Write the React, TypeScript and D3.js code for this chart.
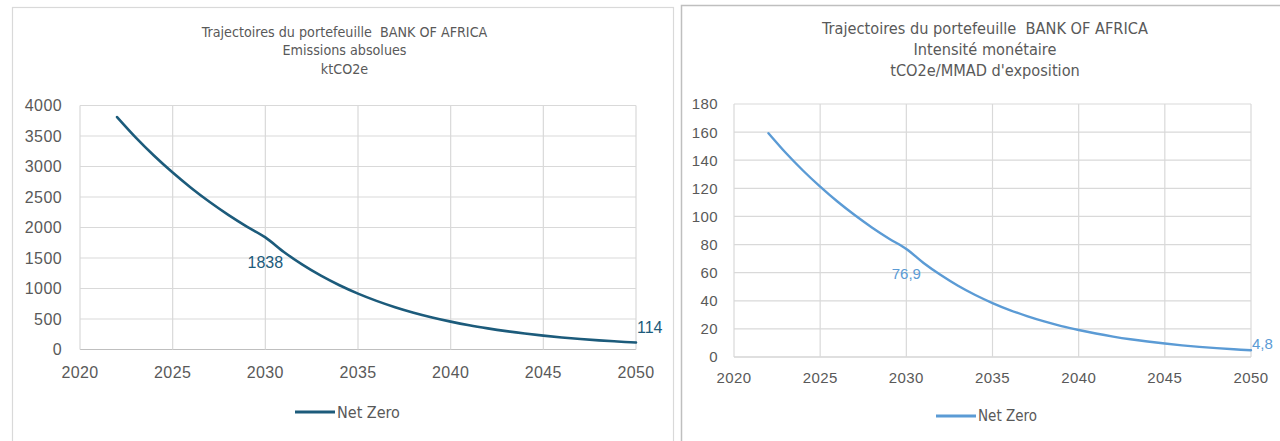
import React from "react";
import * as d3 from "d3";

const years = [2022, 2023, 2024, 2025, 2026, 2027, 2028, 2029, 2030, 2031, 2032, 2033, 2034, 2035, 2036, 2037, 2038, 2039, 2040, 2041, 2042, 2043, 2044, 2045, 2046, 2047, 2048, 2049, 2050];
const emissions = [3810, 3478, 3176, 2900, 2648, 2417, 2207, 2015, 1838, 1599, 1391, 1210, 1053, 916, 797, 693, 603, 525, 457, 397, 346, 301, 262, 228, 198, 172, 150, 131, 114];
const intensity = [159.2, 145.3, 132.7, 121.2, 110.6, 101.0, 92.2, 84.2, 76.9, 66.9, 58.3, 50.7, 44.1, 38.4, 33.4, 29.1, 25.3, 22.0, 19.2, 16.7, 14.5, 12.6, 11.0, 9.6, 8.3, 7.2, 6.3, 5.5, 4.8];
const labelYears = [2030, 2050];
const xTicks = [2020, 2025, 2030, 2035, 2040, 2045, 2050];
const leftTicks = [0, 500, 1000, 1500, 2000, 2500, 3000, 3500, 4000];
const rightTicks = [0, 20, 40, 60, 80, 100, 120, 140, 160, 180];
const leftTitle = ["Trajectoires du portefeuille  BANK OF AFRICA", "Emissions absolues", "ktCO2e"];
const rightTitle = ["Trajectoires du portefeuille  BANK OF AFRICA", "Intensité monétaire", "tCO2e/MMAD d'exposition"];
const seriesName = "Net Zero";

const fr = d3.formatLocale({ decimal: ",", thousands: "", grouping: [3], currency: ["", "€"] });
const fmtInt = fr.format("d");
const fmtDec = fr.format(".1f");

const NARROW = "'Liberation Sans Narrow', 'DejaVu Sans Condensed', 'Liberation Sans', sans-serif";
const SANS = "'Liberation Sans', Arial, sans-serif";
const GRAY = "#595959";

type PanelProps = {
  values: number[];
  yTicks: number[];
  yMax: number;
  title: string[];
  color: string;
  labelColor: string;
  fmt: (v: number) => string;
  x0: number; x1: number; yTop: number; yBot: number;
  yLabelEnd: number; xLabelBase: number; tickFont: number;
  titleX: number; titleYs: number[]; titleFont: number;
  legendX: number; legendY: number; legendLen: number; legendFont: number;
  lineWidth: number;
  labelOffsets: { dx: number; dy: number; anchor: string }[];
};

function Panel(p: PanelProps) {
  const x = d3.scaleLinear().domain([2020, 2050]).range([p.x0, p.x1]);
  const y = d3.scaleLinear().domain([0, p.yMax]).range([p.yBot, p.yTop]);
  const data = years.map((yr, i) => ({ yr, v: p.values[i] }));
  const line = d3.line<{ yr: number; v: number }>()
    .x(d => x(d.yr)).y(d => y(d.v))
    .curve(d3.curveCatmullRom.alpha(0.5));
  return (
    <g>
      {p.yTicks.map(t => (
        <line key={"h" + t} x1={p.x0} x2={p.x1} y1={y(t)} y2={y(t)}
          stroke={t === 0 ? "#bfbfbf" : "#d9d9d9"} strokeWidth={1.2} />
      ))}
      {xTicks.map(t => (
        <line key={"v" + t} x1={x(t)} x2={x(t)} y1={p.yTop} y2={p.yBot}
          stroke="#d9d9d9" strokeWidth={1.2} />
      ))}
      {p.yTicks.map(t => (
        <text key={"yl" + t} x={p.yLabelEnd} y={y(t)} dy="0.36em" textAnchor="end"
          fontFamily={SANS} fontSize={p.tickFont} fill={GRAY} letterSpacing={0.4}>{t}</text>
      ))}
      {xTicks.map(t => (
        <text key={"xl" + t} x={x(t)} y={p.xLabelBase} textAnchor="middle"
          fontFamily={SANS} fontSize={p.tickFont} fill={GRAY} letterSpacing={0.4}>{t}</text>
      ))}
      <path d={line(data) || ""} fill="none" stroke={p.color} strokeWidth={p.lineWidth} strokeLinecap="round" />
      {labelYears.map((ly, i) => {
        const v = p.values[years.indexOf(ly)];
        const o = p.labelOffsets[i];
        return (
          <text key={"dl" + ly} x={x(ly) + o.dx} y={y(v) + o.dy} dy="0.36em" textAnchor={o.anchor}
            fontFamily={SANS} fontSize={p.tickFont} fill={p.labelColor}>{p.fmt(v)}</text>
        );
      })}
      {p.title.map((t, i) => (
        <text key={"t" + i} x={p.titleX} y={p.titleYs[i]} dy="0.36em" textAnchor="middle"
          fontFamily={NARROW} fontSize={p.titleFont} fill={GRAY} style={{ whiteSpace: "pre" }}>{t}</text>
      ))}
      <line x1={p.legendX} x2={p.legendX + p.legendLen} y1={p.legendY} y2={p.legendY}
        stroke={p.color} strokeWidth={p.lineWidth + 0.5} />
      <text x={p.legendX + p.legendLen + 2} y={p.legendY} dy="0.36em"
        fontFamily={NARROW} fontSize={p.legendFont} fill={GRAY}>{seriesName}</text>
    </g>
  );
}

export default function App() {
  return (
    <svg width={1280} height={441} style={{ position: "absolute", left: 0, top: 0, background: "#fff" }}>
      <rect x={0} y={0} width={1280} height={441} fill="#fff" />
      <rect x={12.5} y={7.5} width={661} height={460} fill="none" stroke="#d9d9d9" strokeWidth={1.2} />
      <rect x={681.5} y={5.5} width={620} height={460} fill="none" stroke="#bfbfbf" strokeWidth={1.5} />
      <Panel
        values={emissions} yTicks={leftTicks} yMax={4000} title={leftTitle}
        color="#1c5b7b" labelColor="#1c5b7b" fmt={fmtInt}
        x0={80} x1={636} yTop={105.5} yBot={349.5}
        yLabelEnd={62} xLabelBase={378} tickFont={16}
        titleX={344.5} titleYs={[32, 50, 69]} titleFont={14.2}
        legendX={295} legendY={412} legendLen={40} legendFont={16} lineWidth={2.6}
        labelOffsets={[{ dx: 0, dy: 25, anchor: "middle" }, { dx: 1, dy: -15, anchor: "start" }]}
      />
      <Panel
        values={intensity} yTicks={rightTicks} yMax={180} title={rightTitle}
        color="#5b9bd5" labelColor="#5b9bd5" fmt={fmtDec}
        x0={734} x1={1251} yTop={104} yBot={357}
        yLabelEnd={718} xLabelBase={383} tickFont={15}
        titleX={985} titleYs={[28, 49, 70]} titleFont={16.2}
        legendX={936} legendY={416} legendLen={40} legendFont={15} lineWidth={2.4}
        labelOffsets={[{ dx: 0, dy: 25, anchor: "middle" }, { dx: 1, dy: -7, anchor: "start" }]}
      />
    </svg>
  );
}
